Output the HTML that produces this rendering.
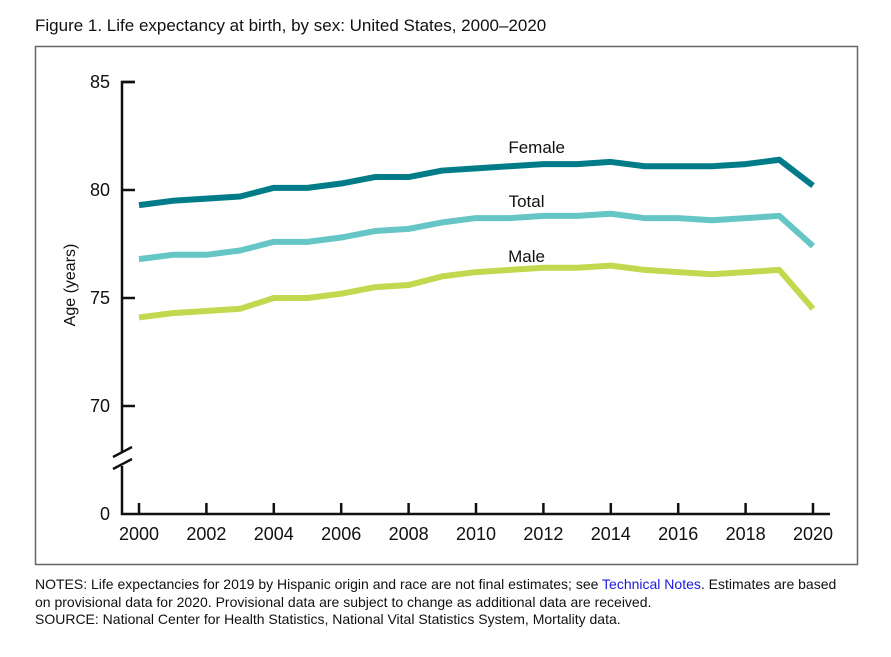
<!DOCTYPE html>
<html><head><meta charset="utf-8"><style>
body{margin:0;background:#fff;width:891px;height:657px;overflow:hidden;font-family:"Liberation Sans",Arial,sans-serif;}
svg{position:absolute;left:0;top:0}
</style></head><body>
<svg width="891" height="657">
<text x="35" y="31" font-size="17" fill="#111">Figure 1. Life expectancy at birth, by sex: United States, 2000–2020</text>
<rect x="35.5" y="46.5" width="822" height="518" fill="none" stroke="#666" stroke-width="1.5"/>
<g id="axes"></g>
<g id="lines"></g>
<text transform="translate(75,285) rotate(-90)" text-anchor="middle" font-size="16" fill="#111">Age (years)</text>
<text x="35" y="589" font-size="14" fill="#111">NOTES: Life expectancies for 2019 by Hispanic origin and race are not final estimates; see <tspan fill="#1a1adc">Technical Notes</tspan>. Estimates are based</text>
<text x="35" y="607" font-size="14" fill="#111">on provisional data for 2020. Provisional data are subject to change as additional data are received.</text>
<text x="35" y="624" font-size="14" fill="#111">SOURCE: National Center for Health Statistics, National Vital Statistics System, Mortality data.</text>
</svg>
<script>
const years=[2000,2001,2002,2003,2004,2005,2006,2007,2008,2009,2010,2011,2012,2013,2014,2015,2016,2017,2018,2019,2020];
const female=[79.3,79.5,79.6,79.7,80.1,80.1,80.3,80.6,80.6,80.9,81.0,81.1,81.2,81.2,81.3,81.1,81.1,81.1,81.2,81.4,80.2];
const total=[76.8,77.0,77.0,77.2,77.6,77.6,77.8,78.1,78.2,78.5,78.7,78.7,78.8,78.8,78.9,78.7,78.7,78.6,78.7,78.8,77.4];
const male=[74.1,74.3,74.4,74.5,75.0,75.0,75.2,75.5,75.6,76.0,76.2,76.3,76.4,76.4,76.5,76.3,76.2,76.1,76.2,76.3,74.5];
const yTicks=[70,75,80,85];
const xTicks=[2000,2002,2004,2006,2008,2010,2012,2014,2016,2018,2020];
const NS='http://www.w3.org/2000/svg';
const X=v=>139+(v-2000)*(813-139)/20;
const Y=v=>190-(v-80)*21.6;
function mk(p,tag,attrs){const e=document.createElementNS(NS,tag);for(const k in attrs)e.setAttribute(k,attrs[k]);p.appendChild(e);return e;}
const ax=document.getElementById('axes');
let e=mk(ax,'path',{d:'M135 82H122V452M122 466V514H830',fill:'none',stroke:'#111','stroke-width':2.5});


e=mk(ax,'path',{d:'M113 457L132 447M113 469L132 459',stroke:'#111','stroke-width':2.5});


yTicks.forEach(v=>{
 const t=mk(ax,'line',{x1:122,x2:135,y1:Y(v),y2:Y(v),stroke:'#111','stroke-width':2.5});
 
 
 const l=mk(ax,'text',{x:110,y:Y(v)+6,'text-anchor':'end','font-size':18,fill:'#111'});l.textContent=v;
 
 
});
e=mk(ax,'text',{x:110,y:520,'text-anchor':'end','font-size':18,fill:'#111'});e.textContent='0';


xTicks.forEach(v=>{
 const t=mk(ax,'line',{x1:X(v),x2:X(v),y1:503,y2:514,stroke:'#111','stroke-width':2.5});
 
 
 const l=mk(ax,'text',{x:X(v),y:540,'text-anchor':'middle','font-size':18,fill:'#111'});l.textContent=v;
 
 
});
const lg=document.getElementById('lines');
[[female,'#007c88','female-line','Female',148,2011.8],[total,'#66c5c5','total-line','Total',202,2011.5],[male,'#c3d84e','male-line','Male',257,2011.5]].forEach(([d,c,n,lab,ly,lx])=>{
 const p=mk(lg,'polyline',{points:d.map((v,i)=>X(years[i])+','+Y(v)).join(' '),fill:'none',stroke:c,'stroke-width':6,'stroke-linejoin':'round'});
 
 
 const t=mk(lg,'text',{x:X(lx),y:ly+5,'text-anchor':'middle','font-size':17,fill:'#111'});t.textContent=lab;
 
 
});
</script>
</body></html>
